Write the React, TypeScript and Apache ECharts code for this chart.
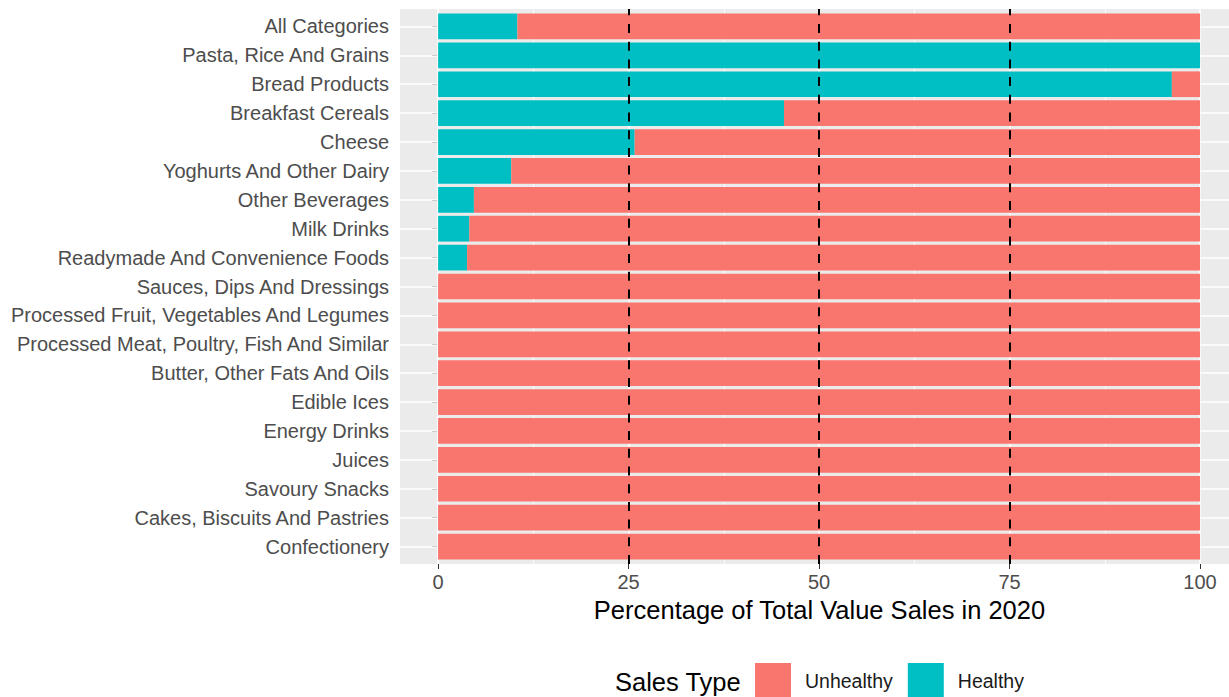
import React, { useEffect, useRef } from "react";
import * as echarts from "echarts";

const categories = [
  "All Categories",
  "Pasta, Rice And Grains",
  "Bread Products",
  "Breakfast Cereals",
  "Cheese",
  "Yoghurts And Other Dairy",
  "Other Beverages",
  "Milk Drinks",
  "Readymade And Convenience Foods",
  "Sauces, Dips And Dressings",
  "Processed Fruit, Vegetables And Legumes",
  "Processed Meat, Poultry, Fish And Similar",
  "Butter, Other Fats And Oils",
  "Edible Ices",
  "Energy Drinks",
  "Juices",
  "Savoury Snacks",
  "Cakes, Biscuits And Pastries",
  "Confectionery",
];

const healthy = [10.4, 100, 96.3, 45.4, 25.8, 9.6, 4.7, 4.1, 3.8, 0, 0, 0, 0, 0, 0, 0, 0, 0, 0];
const unhealthy = [89.6, 0, 3.7, 54.6, 74.2, 90.4, 95.3, 95.9, 96.2, 100, 100, 100, 100, 100, 100, 100, 100, 100, 100];

const xTicks = [0, 25, 50, 75, 100];
const xMinor = [12.5, 37.5, 62.5, 87.5];
const refLines = [25, 50, 75];

const RED = "#F8766D";
const TEAL = "#00BFC4";
const FONT = "'Liberation Sans', Arial, sans-serif";

export default function App() {
  const ref = useRef<HTMLDivElement>(null);
  useEffect(() => {
    if (!ref.current) return;
    const chart = echarts.init(ref.current, undefined, { renderer: "svg" });
    const XMIN = -5;
    const XMAX = 103.8;
    const option: any = {
      animation: false,
      textStyle: { fontFamily: FONT },
      grid: [
        { left: 400, right: 0, top: 12, bottom: 136, containLabel: false },
        {
          left: 400,
          right: 0,
          top: 9,
          bottom: 133,
          show: true,
          backgroundColor: "#EBEBEB",
          borderWidth: 0,
        },
      ],
      xAxis: [
        {
          type: "value",
          gridIndex: 0,
          min: XMIN,
          max: XMAX,
          offset: 3,
          axisLine: { show: false },
          splitLine: { show: false },
          axisTick: {
            show: true,
            customValues: xTicks,
            length: 5,
            lineStyle: { color: "#333333", width: 1 },
          },
          axisLabel: {
            customValues: xTicks,
            color: "#4D4D4D",
            fontSize: 20,
            fontFamily: FONT,
            margin: 8,
          },
          name: "Percentage of Total Value Sales in 2020",
          nameLocation: "middle",
          nameGap: 33,
          nameTextStyle: { color: "#000000", fontSize: 25.5, fontFamily: FONT, padding: [0, 0, 0, 10] },
        },
        {
          type: "value",
          gridIndex: 1,
          min: XMIN,
          max: XMAX,
          show: false,
          splitLine: { show: false },
        },
      ],
      yAxis: [
        {
          type: "category",
          gridIndex: 0,
          data: categories,
          inverse: true,
          axisLine: { show: false },
          splitLine: { show: false },
          axisTick: {
            show: true,
            alignWithLabel: true,
            length: 6,
            lineStyle: { color: "#333333", width: 1 },
          },
          axisLabel: {
            color: "#4D4D4D",
            fontSize: 20,
            fontFamily: FONT,
            margin: 11,
          },
        },
        {
          type: "value",
          gridIndex: 1,
          min: 0,
          max: 1,
          show: false,
          splitLine: { show: false },
        },
      ],
      legend: {
        data: ["Unhealthy", "Healthy"],
        left: 755,
        top: 663,
        padding: 0,
        orient: "horizontal",
        itemWidth: 36,
        itemHeight: 36,
        itemGap: 15,
        icon: "rect",
        selectedMode: false,
        textStyle: {
          fontSize: 19.5,
          color: "#1A1A1A",
          fontFamily: FONT,
          padding: [4, 0, 0, 9],
        },
      },
      graphic: [
        {
          type: "text",
          left: 615,
          top: 669,
          style: {
            text: "Sales Type",
            fontSize: 25.5,
            fontFamily: FONT,
            fill: "#000000",
          },
        },
      ],
      series: [
        {
          type: "scatter",
          xAxisIndex: 1,
          yAxisIndex: 1,
          data: [],
          z: 1,
          silent: true,
          markLine: {
            z: 1,
            silent: true,
            symbol: "none",
            label: { show: false },
            data: [
              ...xTicks.map((v) => ({ xAxis: v, lineStyle: { color: "#FFFFFF", width: 1.6, type: "solid" } })),
              ...xMinor.map((v) => ({ xAxis: v, lineStyle: { color: "#FFFFFF", width: 0.8, type: "solid" } })),
            ],
          },
        },
        {
          type: "scatter",
          xAxisIndex: 0,
          yAxisIndex: 0,
          data: [],
          z: 1,
          silent: true,
          markLine: {
            z: 1,
            silent: true,
            symbol: "none",
            label: { show: false },
            data: categories.map((c) => ({ yAxis: c, lineStyle: { color: "#FFFFFF", width: 1.6, type: "solid" } })),
          },
        },
        {
          name: "Healthy",
          type: "bar",
          stack: "total",
          xAxisIndex: 0,
          yAxisIndex: 0,
          data: healthy,
          barCategoryGap: "11%",
          z: 3,
          itemStyle: { color: TEAL },
        },
        {
          name: "Unhealthy",
          type: "bar",
          stack: "total",
          xAxisIndex: 0,
          yAxisIndex: 0,
          data: unhealthy,
          barCategoryGap: "11%",
          z: 3,
          itemStyle: { color: RED },
        },
        {
          type: "scatter",
          xAxisIndex: 1,
          yAxisIndex: 1,
          data: [],
          z: 6,
          silent: true,
          markLine: {
            z: 6,
            silent: true,
            symbol: "none",
            label: { show: false },
            data: refLines.map((v) => ({ xAxis: v, lineStyle: { color: "#000000", width: 2, type: [9, 8.7] } })),
          },
        },
      ],
    };
    chart.setOption(option);
    return () => chart.dispose();
  }, []);
  return (
    <div
      ref={ref}
      style={{ position: "absolute", left: 0, top: 0, width: 1229, height: 697, background: "#FFFFFF" }}
    />
  );
}
